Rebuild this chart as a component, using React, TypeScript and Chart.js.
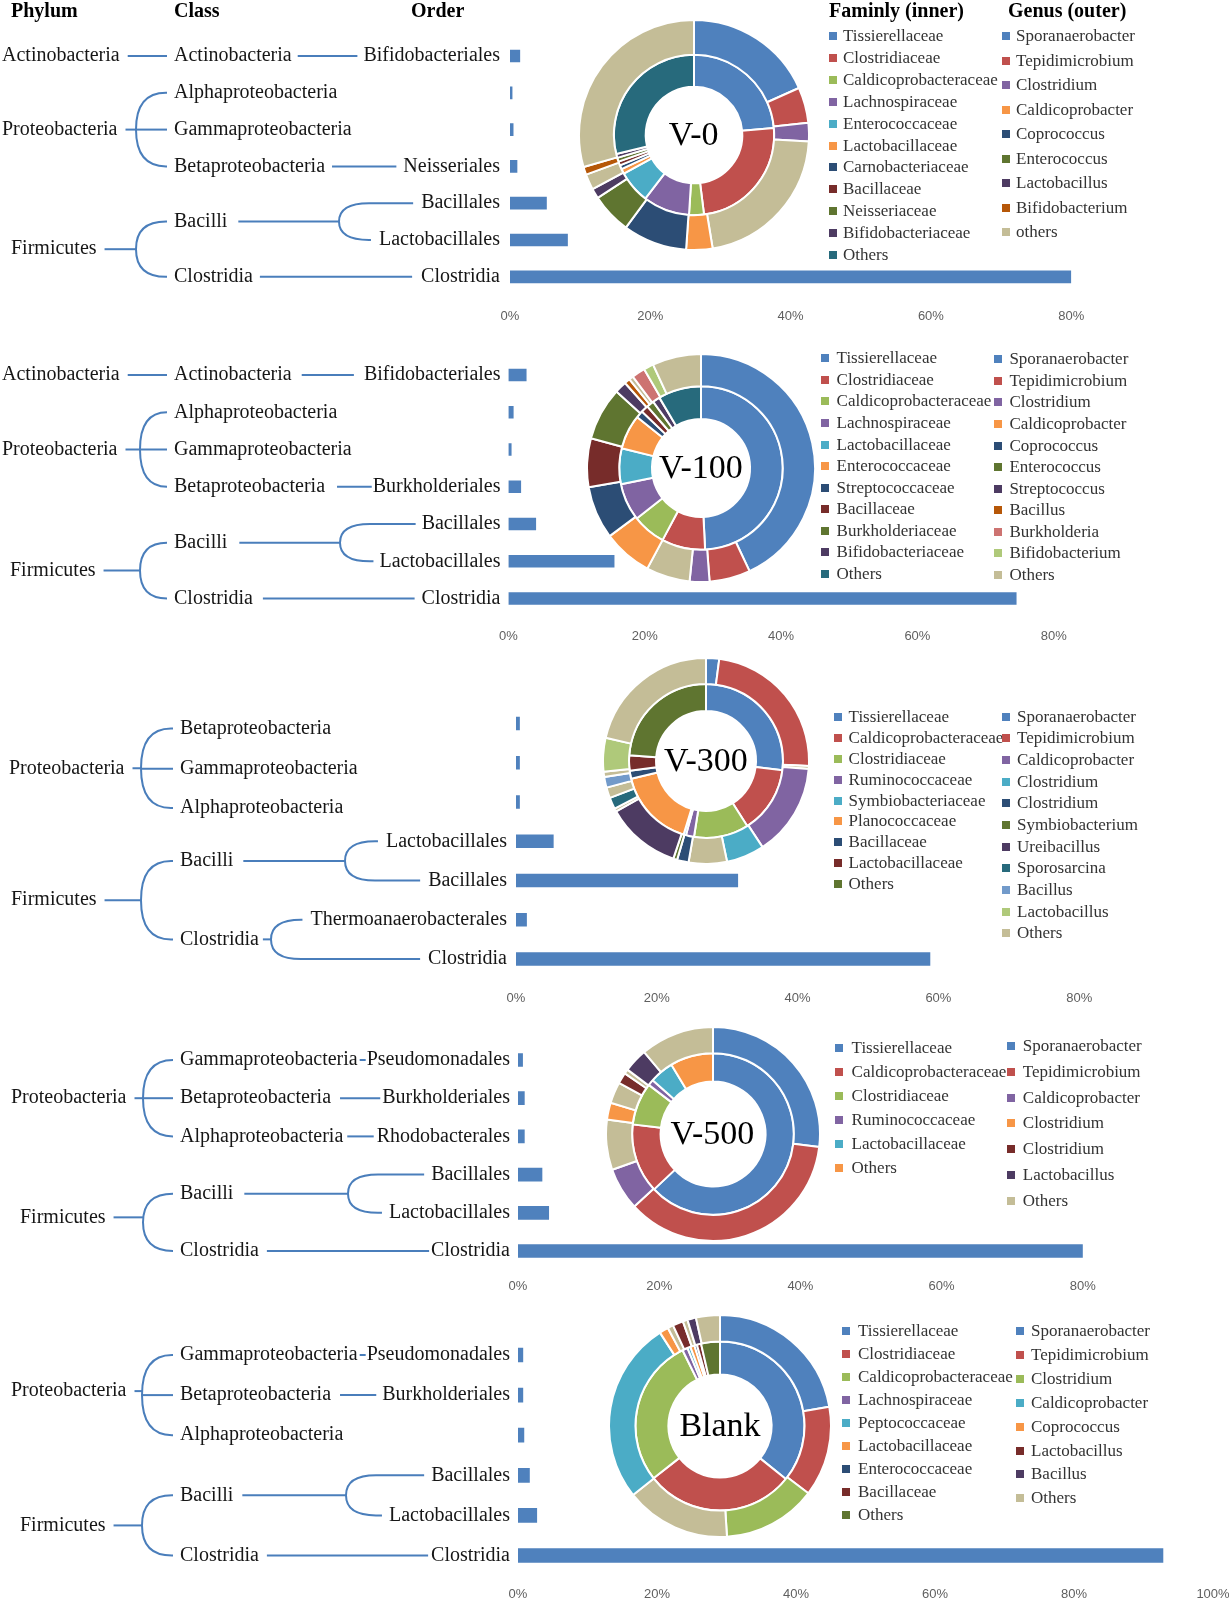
import React, { useEffect, useRef } from "react";
import { Chart, registerables } from "chart.js";

Chart.register(...registerables);

// ---------------- colours (styles) ----------------
const BLUE = "#4F81BD", RED = "#C0504D", GREEN = "#9BBB59", PURPLE = "#8064A2", AQUA = "#4BACC6",
  ORANGE = "#F79646", DKBLUE = "#2C4D75", DKRED = "#772C2A", DKGREEN = "#5F7530", DKPURPLE = "#4D3B62",
  DKAQUA = "#276A7C", DKORANGE = "#B65708", LTBLUE = "#729ACA", LTRED = "#CD7371", LTGREEN = "#AFC97A",
  TAN = "#C4BD97";
const LINE = "#4A7EBB";
const SERIF = '"Liberation Serif", "Times New Roman", serif';

// ---------------- data: V-0 ----------------
const V0_ORDERS = ["Bifidobacteriales", "", "", "Neisseriales", "Bacillales", "Lactobacillales", "Clostridia"];
const V0_ORDER_VALUES = [1.4, 0.3, 0.45, 1.0, 5.2, 8.2, 80];
const V0_CLASSES = ["Actinobacteria", "Alphaproteobacteria", "Gammaproteobacteria", "Betaproteobacteria", "Bacilli", "Clostridia"];
const V0_CLASS_ROWS = [[0], [1], [2], [3], [4, 5], [6]];
const V0_PHYLA = ["Actinobacteria", "Proteobacteria", "Firmicutes"];
const V0_PHYLUM_CLASSES = [[0], [1, 2, 3], [4, 5]];
const V0_FAMILIES = ["Tissierellaceae", "Clostridiaceae", "Caldicoprobacteraceae", "Lachnospiraceae", "Enterococcaceae", "Lactobacillaceae", "Carnobacteriaceae", "Bacillaceae", "Neisseriaceae", "Bifidobacteriaceae", "Others"];
const V0_FAMILY_VALUES = [23.6, 24.4, 3.0, 9.4, 6.6, 1.0, 0.8, 0.8, 0.8, 0.8, 28.8];
const V0_GENERA = ["Sporanaerobacter", "Tepidimicrobium", "Clostridium", "Caldicoprobacter", "Coprococcus", "Enterococcus", "Lactobacillus", "Bifidobacterium", "others"];
const V0_GENUS_SEGMENTS = [18.3, 5.0, 2.6, 21.5, 3.7, 9.0, 5.7, 1.4, 2.2, 1.1, 29.5];

// ---------------- data: V-100 ----------------
const V100_ORDERS = ["Bifidobacteriales", "", "", "Burkholderiales", "Bacillales", "Lactobacillales", "Clostridia"];
const V100_ORDER_VALUES = [2.6, 0.7, 0.4, 1.8, 4.0, 15.5, 74.5];
const V100_CLASSES = ["Actinobacteria", "Alphaproteobacteria", "Gammaproteobacteria", "Betaproteobacteria", "Bacilli", "Clostridia"];
const V100_CLASS_ROWS = [[0], [1], [2], [3], [4, 5], [6]];
const V100_PHYLA = ["Actinobacteria", "Proteobacteria", "Firmicutes"];
const V100_PHYLUM_CLASSES = [[0], [1, 2, 3], [4, 5]];
const V100_FAMILIES = ["Tissierellaceae", "Clostridiaceae", "Caldicoprobacteraceae", "Lachnospiraceae", "Lactobacillaceae", "Enterococcaceae", "Streptococcaceae", "Bacillaceae", "Burkholderiaceae", "Bifidobacteriaceae", "Others"];
const V100_FAMILY_VALUES = [49.2, 8.6, 6.6, 7.4, 7.1, 6.8, 1.45, 1.45, 1.45, 1.45, 8.5];
const V100_GENERA = ["Sporanaerobacter", "Tepidimicrobium", "Clostridium", "Caldicoprobacter", "Coprococcus", "Enterococcus", "Streptococcus", "Bacillus", "Burkholderia", "Bifidobacterium", "Others"];
const V100_GENUS_SEGMENTS = [43, 5.8, 2.8, 6.2, 7.0, 7.5, 6.9, 7.5, 1.7, 0.8, 0.6, 1.9, 1.4, 6.9];

// ---------------- data: V-300 ----------------
const V300_ORDERS = ["", "", "", "Lactobacillales", "Bacillales", "Thermoanaerobacterales", "Clostridia"];
const V300_ORDER_VALUES = [0.5, 0.5, 0.5, 5.3, 31.5, 1.5, 58.8];
const V300_CLASSES = ["Betaproteobacteria", "Gammaproteobacteria", "Alphaproteobacteria", "Bacilli", "Clostridia"];
const V300_CLASS_ROWS = [[0], [1], [2], [3, 4], [5, 6]];
const V300_PHYLA = ["Proteobacteria", "Firmicutes"];
const V300_PHYLUM_CLASSES = [[0, 1, 2], [3, 4]];
const V300_FAMILIES = ["Tissierellaceae", "Caldicoprobacteraceae", "Clostridiaceae", "Ruminococcaceae", "Symbiobacteriaceae", "Planococcaceae", "Bacillaceae", "Lactobacillaceae", "Others"];
const V300_FAMILY_VALUES = [26.9, 14.1, 11.5, 1.7, 0.5, 16.6, 1.7, 3.2, 23.8];
const V300_GENERA = ["Sporanaerobacter", "Tepidimicrobium", "Caldicoprobacter", "Clostridium", "Clostridium", "Symbiobacterium", "Ureibacillus", "Sporosarcina", "Bacillus", "Lactobacillus", "Others"];
const V300_GENUS_SEGMENTS = [2.06, 23.72, 0.47, 14.5, 5.97, 6.0, 1.81, 0.61, 11.72, 0.5, 1.81, 1.67, 1.67, 0.83, 5.28, 21.38];

// ---------------- data: V-500 ----------------
const V500_ORDERS = ["Pseudomonadales", "Burkholderiales", "Rhodobacterales", "Bacillales", "Lactobacillales", "Clostridia"];
const V500_ORDER_VALUES = [0.65, 0.9, 0.9, 3.4, 4.35, 80];
const V500_CLASSES = ["Gammaproteobacteria", "Betaproteobacteria", "Alphaproteobacteria", "Bacilli", "Clostridia"];
const V500_CLASS_ROWS = [[0], [1], [2], [3, 4], [5]];
const V500_PHYLA = ["Proteobacteria", "Firmicutes"];
const V500_PHYLUM_CLASSES = [[0, 1, 2], [3, 4]];
const V500_FAMILIES = ["Tissierellaceae", "Caldicoprobacteraceae", "Clostridiaceae", "Ruminococcaceae", "Lactobacillaceae", "Others"];
const V500_FAMILY_VALUES = [63, 13.9, 8.5, 1.2, 4.8, 8.6];
const V500_GENERA = ["Sporanaerobacter", "Tepidimicrobium", "Caldicoprobacter", "Clostridium", "Clostridium", "Lactobacillus", "Others"];
const V500_GENUS_SEGMENTS = [26.94, 36.22, 6.42, 7.58, 2.56, 3.19, 1.67, 0.69, 3.61, 11.12];

// ---------------- data: Blank ----------------
const BLANK_ORDERS = ["Pseudomonadales", "Burkholderiales", "", "Bacillales", "Lactobacillales", "Clostridia"];
const BLANK_ORDER_VALUES = [0.7, 0.7, 0.85, 1.65, 2.7, 92.8];
const BLANK_CLASSES = ["Gammaproteobacteria", "Betaproteobacteria", "Alphaproteobacteria", "Bacilli", "Clostridia"];
const BLANK_CLASS_ROWS = [[0], [1], [2], [3, 4], [5]];
const BLANK_PHYLA = ["Proteobacteria", "Firmicutes"];
const BLANK_PHYLUM_CLASSES = [[0, 1, 2], [3, 4]];
const BLANK_FAMILIES = ["Tissierellaceae", "Clostridiaceae", "Caldicoprobacteraceae", "Lachnospiraceae", "Peptococcaceae", "Lactobacillaceae", "Enterococcaceae", "Bacillaceae", "Others"];
const BLANK_FAMILY_VALUES = [35.8, 28.6, 28.3, 1.0, 0.6, 0.8, 0.5, 0.8, 3.6];
const BLANK_GENERA = ["Sporanaerobacter", "Tepidimicrobium", "Clostridium", "Caldicoprobacter", "Coprococcus", "Lactobacillus", "Bacillus", "Others"];
const BLANK_GENUS_SEGMENTS = [22.22, 13.14, 13.64, 15.33, 26.58, 1.31, 0.83, 1.53, 0.69, 1.25, 3.48];

const AXIS_MAX = [80, 80, 80, 80, 100];
const CENTER_LABELS = ["V-0", "V-100", "V-300", "V-500", "Blank"];
const HEADERS = ["Phylum", "Class", "Order", "Faminly (inner)", "Genus (outer)"];

// ---------------- styles per ring ----------------
const V0_FAMILY_COLORS = [BLUE, RED, GREEN, PURPLE, AQUA, ORANGE, DKBLUE, DKRED, DKGREEN, DKPURPLE, DKAQUA];
const V0_GENUS_COLORS = [BLUE, RED, PURPLE, ORANGE, DKBLUE, DKGREEN, DKPURPLE, DKORANGE, TAN];
const V0_SEGMENT_COLORS = [BLUE, RED, PURPLE, TAN, ORANGE, DKBLUE, DKGREEN, DKPURPLE, TAN, DKORANGE, TAN];
const V100_FAMILY_COLORS = [BLUE, RED, GREEN, PURPLE, AQUA, ORANGE, DKBLUE, DKRED, DKGREEN, DKPURPLE, DKAQUA];
const V100_GENUS_COLORS = [BLUE, RED, PURPLE, ORANGE, DKBLUE, DKGREEN, DKPURPLE, DKORANGE, LTRED, LTGREEN, TAN];
const V100_SEGMENT_COLORS = [BLUE, RED, PURPLE, TAN, ORANGE, DKBLUE, DKRED, DKGREEN, DKPURPLE, DKORANGE, TAN, LTRED, LTGREEN, TAN];
const V300_FAMILY_COLORS = [BLUE, RED, GREEN, PURPLE, AQUA, ORANGE, DKBLUE, DKRED, DKGREEN];
const V300_GENUS_COLORS = [BLUE, RED, PURPLE, AQUA, DKBLUE, DKGREEN, DKPURPLE, DKAQUA, LTBLUE, LTGREEN, TAN];
const V300_SEGMENT_COLORS = [BLUE, RED, TAN, PURPLE, AQUA, TAN, DKBLUE, DKGREEN, DKPURPLE, TAN, DKAQUA, TAN, LTBLUE, TAN, LTGREEN, TAN];
const V500_FAMILY_COLORS = [BLUE, RED, GREEN, PURPLE, AQUA, ORANGE];
const V500_GENUS_COLORS = [BLUE, RED, PURPLE, ORANGE, DKRED, DKPURPLE, TAN];
const V500_SEGMENT_COLORS = [BLUE, RED, PURPLE, TAN, ORANGE, TAN, DKRED, TAN, DKPURPLE, TAN];
const BLANK_FAMILY_COLORS = [BLUE, RED, GREEN, PURPLE, AQUA, ORANGE, DKBLUE, DKRED, DKGREEN];
const BLANK_GENUS_COLORS = [BLUE, RED, GREEN, AQUA, ORANGE, DKRED, DKPURPLE, TAN];
const BLANK_SEGMENT_COLORS = [BLUE, RED, GREEN, TAN, AQUA, ORANGE, TAN, DKRED, TAN, DKPURPLE, TAN];

// ---------------- layout (positions) ----------------
const BAR_LAYOUTS = [
  { x0: 510, px20: 140.3, firstRow: 56, spacing: 36.8, labelY: 316, barThickness: 12, phylumX: [2, 2, 11], phylumDy: [0, 0, 0], phylumBracketX: 136, classX: 174, orderGap: 10, classDy: [0, 0, 0, 0, 0, 0], classGaps: [[6, 6], [0, 0], [0, 0], [7, 7], [11, 8], [7, 9]], classBracketX: [0, 0, 0, 0, 339, 0] },
  { x0: 508.5, px20: 136.3, firstRow: 375, spacing: 37.25, labelY: 636, barThickness: 12, phylumX: [2, 2, 10], phylumDy: [0, 0, 0], phylumBracketX: 140, classX: 174, orderGap: 8, classDy: [0, 0, 0, 0, 0, 0], classGaps: [[10, 10], [0, 0], [0, 0], [12, 1], [12, 6], [10, 7]], classBracketX: [0, 0, 0, 0, 340, 0] },
  { x0: 516, px20: 140.8, firstRow: 723.5, spacing: 39.25, labelY: 998, barThickness: 13, phylumX: [9, 11], phylumDy: [0, 0], phylumBracketX: 141, classX: 180, orderGap: 9, classDy: [5, 6, 6, 0, 0], classGaps: [[0, 0], [0, 0], [0, 0], [10, 8], [4, 8]], classBracketX: [0, 0, 0, 345, 271] },
  { x0: 518, px20: 141.2, firstRow: 1060, spacing: 38.2, labelY: 1286, barThickness: 13, phylumX: [11, 20], phylumDy: [0, -5], phylumBracketX: 143, classX: 180, orderGap: 8, classDy: [0, 0, 0, 0, 0], classGaps: [[2, 1], [9, 2], [4, 3], [11, 7], [8, 2]], classBracketX: [0, 0, 0, 348, 0] },
  { x0: 518, px20: 139, firstRow: 1355, spacing: 40.1, labelY: 1594, barThickness: 14, phylumX: [11, 20], phylumDy: [-4, 0], phylumBracketX: 142, classX: 180, orderGap: 8, classDy: [0, 0, 0, 0, 0], classGaps: [[2, 1], [9, 6], [0, 0], [9, 7], [8, 3]], classBracketX: [0, 0, 0, 346, 0] },
];

const DONUT_LAYOUTS = [
  { cx: 693.6, cy: 135, r: 115, cutout: 0.42, wOuter: 35, wInner: 32, fam: [829, 843, 36, 21.9], gen: [1002, 1016, 36, 24.5] },
  { cx: 701, cy: 467.5, r: 114, cutout: 0.43, wOuter: 32, wInner: 32.5, fam: [821, 836.6, 358.3, 21.56], gen: [994, 1009.4, 359.3, 21.57] },
  { cx: 706, cy: 761, r: 103, cutout: 0.485, wOuter: 26, wInner: 27, fam: [833.6, 848.6, 716.7, 20.95], gen: [1002, 1017, 716.7, 21.66] },
  { cx: 712.5, cy: 1133.5, r: 107, cutout: 0.49, wOuter: 26, wInner: 28.3, fam: [835, 851.6, 1047.7, 24.1], gen: [1007, 1022.8, 1046, 25.8] },
  { cx: 720, cy: 1425.5, r: 111, cutout: 0.465, wOuter: 26.5, wInner: 33, fam: [842, 858, 1330.7, 23.0], gen: [1016, 1031, 1331, 23.9] },
];

const PANELS = [
  { orders: V0_ORDERS, values: V0_ORDER_VALUES, classes: V0_CLASSES, classRows: V0_CLASS_ROWS, phyla: V0_PHYLA, phylumClasses: V0_PHYLUM_CLASSES },
  { orders: V100_ORDERS, values: V100_ORDER_VALUES, classes: V100_CLASSES, classRows: V100_CLASS_ROWS, phyla: V100_PHYLA, phylumClasses: V100_PHYLUM_CLASSES },
  { orders: V300_ORDERS, values: V300_ORDER_VALUES, classes: V300_CLASSES, classRows: V300_CLASS_ROWS, phyla: V300_PHYLA, phylumClasses: V300_PHYLUM_CLASSES },
  { orders: V500_ORDERS, values: V500_ORDER_VALUES, classes: V500_CLASSES, classRows: V500_CLASS_ROWS, phyla: V500_PHYLA, phylumClasses: V500_PHYLUM_CLASSES },
  { orders: BLANK_ORDERS, values: BLANK_ORDER_VALUES, classes: BLANK_CLASSES, classRows: BLANK_CLASS_ROWS, phyla: BLANK_PHYLA, phylumClasses: BLANK_PHYLUM_CLASSES },
];

const DONUTS = [
  { families: V0_FAMILIES, famValues: V0_FAMILY_VALUES, famColors: V0_FAMILY_COLORS, genera: V0_GENERA, genColors: V0_GENUS_COLORS, segments: V0_GENUS_SEGMENTS, segColors: V0_SEGMENT_COLORS },
  { families: V100_FAMILIES, famValues: V100_FAMILY_VALUES, famColors: V100_FAMILY_COLORS, genera: V100_GENERA, genColors: V100_GENUS_COLORS, segments: V100_GENUS_SEGMENTS, segColors: V100_SEGMENT_COLORS },
  { families: V300_FAMILIES, famValues: V300_FAMILY_VALUES, famColors: V300_FAMILY_COLORS, genera: V300_GENERA, genColors: V300_GENUS_COLORS, segments: V300_GENUS_SEGMENTS, segColors: V300_SEGMENT_COLORS },
  { families: V500_FAMILIES, famValues: V500_FAMILY_VALUES, famColors: V500_FAMILY_COLORS, genera: V500_GENERA, genColors: V500_GENUS_COLORS, segments: V500_GENUS_SEGMENTS, segColors: V500_SEGMENT_COLORS },
  { families: BLANK_FAMILIES, famValues: BLANK_FAMILY_VALUES, famColors: BLANK_FAMILY_COLORS, genera: BLANK_GENERA, genColors: BLANK_GENUS_COLORS, segments: BLANK_GENUS_SEGMENTS, segColors: BLANK_SEGMENT_COLORS },
];

// ---------------- drawing helpers ----------------
function line(ctx: CanvasRenderingContext2D, x1: number, y1: number, x2: number, y2: number) {
  if (x2 <= x1) return;
  ctx.beginPath();
  ctx.moveTo(x1, y1);
  ctx.lineTo(x2, y2);
  ctx.stroke();
}

function bracket(ctx: CanvasRenderingContext2D, bx: number, ys: number[], xs: number[]) {
  const n = ys.length;
  const yT = ys[0], yB = ys[n - 1], yM = (yT + yB) / 2;
  const cw = Math.min(30, xs[0] - bx, xs[n - 1] - bx);
  ctx.beginPath();
  ctx.moveTo(xs[0], yT);
  ctx.lineTo(bx + cw, yT);
  ctx.quadraticCurveTo(bx, yT, bx, yM);
  ctx.quadraticCurveTo(bx, yB, bx + cw, yB);
  ctx.lineTo(xs[n - 1], yB);
  ctx.stroke();
  for (let k = 1; k < n - 1; k++) line(ctx, bx, ys[k], xs[k], ys[k]);
}

function drawTree(chart: any, p: any, L: any) {
  const ctx: CanvasRenderingContext2D = chart.ctx;
  const yScale = chart.scales.y;
  const rowY = (i: number) => yScale.getPixelForValue(i);
  ctx.save();
  ctx.font = `20px ${SERIF}`;
  ctx.fillStyle = "#161616";
  ctx.strokeStyle = LINE;
  ctx.lineWidth = 2;
  ctx.textBaseline = "middle";
  const orderRight = L.x0 - L.orderGap;
  const orderStart: number[] = [];
  p.orders.forEach((o: string, i: number) => {
    orderStart[i] = orderRight - ctx.measureText(o).width;
    if (o) {
      ctx.textAlign = "right";
      ctx.fillText(o, orderRight, rowY(i));
    }
  });
  const classY: number[] = [];
  p.classes.forEach((c: string, k: number) => {
    const rows: number[] = p.classRows[k];
    const y = (rowY(rows[0]) + rowY(rows[rows.length - 1])) / 2 + L.classDy[k];
    classY[k] = y;
    ctx.textAlign = "left";
    ctx.fillText(c, L.classX, y);
    const end = L.classX + ctx.measureText(c).width;
    const withOrder = rows.filter((r) => p.orders[r]);
    const [gl, gr] = L.classGaps[k];
    if (withOrder.length === 1) {
      line(ctx, end + gl, y, orderStart[withOrder[0]] - gr, y);
    } else if (withOrder.length > 1) {
      const bx = L.classBracketX[k];
      line(ctx, end + gl, y, bx, y);
      bracket(ctx, bx, withOrder.map(rowY), withOrder.map((r) => orderStart[r] - gr));
    }
  });
  p.phyla.forEach((ph: string, j: number) => {
    const cls: number[] = p.phylumClasses[j];
    const y = (classY[cls[0]] + classY[cls[cls.length - 1]]) / 2 + L.phylumDy[j];
    ctx.textAlign = "left";
    ctx.fillText(ph, L.phylumX[j], y);
    const start = L.phylumX[j] + ctx.measureText(ph).width + 8;
    const target = L.classX - 7;
    if (cls.length === 1) {
      line(ctx, start, y, target, y);
    } else {
      line(ctx, start, y, L.phylumBracketX, y);
      bracket(ctx, L.phylumBracketX, cls.map((c) => classY[c]), cls.map(() => target));
    }
  });
  ctx.restore();
}

function barGeometry(L: any, n: number, max: number) {
  const chartTop = L.firstRow - L.spacing / 2;
  const chartBottom = L.firstRow + (n - 0.5) * L.spacing;
  const top = Math.floor(chartTop - 30);
  const padTop = chartTop - top;
  const H = Math.ceil(chartBottom - top + 50);
  const axisH = H - (chartBottom - top);
  const plotW = (max / 20) * L.px20;
  const W = Math.ceil(L.x0 + plotW + 40);
  const padRight = W - L.x0 - plotW;
  const tickPad = L.labelY - chartBottom - 7.8;
  return { top, padTop, H, axisH, W, padRight, tickPad };
}

function TreeBar({ idx }: { idx: number }) {
  const ref = useRef<HTMLCanvasElement>(null);
  const p = PANELS[idx];
  const L = BAR_LAYOUTS[idx];
  const max = AXIS_MAX[idx];
  const g = barGeometry(L, p.values.length, max);
  useEffect(() => {
    if (!ref.current) return;
    const chart = new Chart(ref.current, {
      type: "bar",
      data: {
        labels: p.orders.map((o, i) => o || `row${i}`),
        datasets: [{ data: p.values, backgroundColor: BLUE, borderWidth: 0, barThickness: L.barThickness }],
      },
      options: {
        indexAxis: "y",
        responsive: false,
        animation: false,
        events: [],
        layout: { padding: { left: L.x0, right: g.padRight, top: g.padTop, bottom: 0 } },
        plugins: { legend: { display: false }, tooltip: { enabled: false } },
        scales: {
          y: { display: false },
          x: {
            type: "linear",
            min: 0,
            max,
            grid: { display: false, drawTicks: false },
            border: { display: false },
            afterFit: (s: any) => { s.height = g.axisH; },
            ticks: {
              stepSize: 20,
              padding: g.tickPad,
              color: "#5f5f5f",
              font: { family: '"Liberation Sans", Arial, sans-serif', size: 13 },
              callback: (v: any) => `${v}%`,
            },
          },
        },
      } as any,
      plugins: [{ id: `tree${idx}`, afterDraw: (chart: any) => drawTree(chart, p, L) }],
    });
    return () => chart.destroy();
  }, []);
  return (
    <canvas
      ref={ref}
      width={g.W}
      height={g.H}
      style={{ position: "absolute", left: 0, top: g.top, width: g.W, height: g.H }}
    />
  );
}

function Donut({ idx }: { idx: number }) {
  const ref = useRef<HTMLCanvasElement>(null);
  const d = DONUTS[idx];
  const L = DONUT_LAYOUTS[idx];
  const S = Math.round(2 * L.r + 2);
  useEffect(() => {
    if (!ref.current) return;
    const chart = new Chart(ref.current, {
      type: "doughnut",
      data: {
        datasets: [
          { data: d.segments, backgroundColor: d.segColors, borderColor: "#ffffff", borderWidth: 2, weight: L.wOuter },
          { data: d.famValues, backgroundColor: d.famColors, borderColor: "#ffffff", borderWidth: 2, weight: L.wInner },
        ],
      },
      options: {
        responsive: false,
        animation: false,
        events: [],
        cutout: `${L.cutout * 100}%`,
        layout: { padding: 0 },
        plugins: { legend: { display: false }, tooltip: { enabled: false } },
      } as any,
    });
    return () => chart.destroy();
  }, []);
  return (
    <>
      <canvas
        ref={ref}
        width={S}
        height={S}
        style={{ position: "absolute", left: L.cx - S / 2, top: L.cy - S / 2, width: S, height: S }}
      />
      <div
        style={{
          position: "absolute", left: L.cx - 80, top: L.cy - 21, width: 160, textAlign: "center",
          font: `34px ${SERIF}`, lineHeight: "40px", color: "#000",
        }}
      >
        {CENTER_LABELS[idx]}
      </div>
      <Legend names={d.families} colors={d.famColors} spec={L.fam} />
      <Legend names={d.genera} colors={d.genColors} spec={L.gen} />
    </>
  );
}

function Legend({ names, colors, spec }: { names: string[]; colors: string[]; spec: number[] }) {
  const [sqX, textX, y0, dy] = spec;
  return (
    <>
      {names.map((n, i) => (
        <React.Fragment key={i}>
          <div style={{ position: "absolute", left: sqX, top: y0 + i * dy - 4, width: 8, height: 8, background: colors[i] }} />
          <div
            style={{
              position: "absolute", left: textX, top: y0 + i * dy - 10, font: `17px ${SERIF}`,
              lineHeight: "20px", whiteSpace: "nowrap", color: "#333",
            }}
          >
            {n}
          </div>
        </React.Fragment>
      ))}
    </>
  );
}

const HEADER_X = [11, 174, 411, 829, 1008];

export default function App() {
  return (
    <div
      style={{
        position: "absolute", left: 0, top: 0, width: 1229, height: 1600, overflow: "hidden",
        background: "#ffffff", fontFamily: SERIF,
      }}
    >
      {PANELS.map((_, i) => <TreeBar key={`b${i}`} idx={i} />)}
      {DONUTS.map((_, i) => <Donut key={`d${i}`} idx={i} />)}
      {HEADERS.map((h, i) => (
        <div
          key={`h${i}`}
          style={{
            position: "absolute", left: HEADER_X[i], top: 0, font: `bold 20px ${SERIF}`,
            lineHeight: "20px", whiteSpace: "nowrap", color: "#000",
          }}
        >
          {h}
        </div>
      ))}
    </div>
  );
}
